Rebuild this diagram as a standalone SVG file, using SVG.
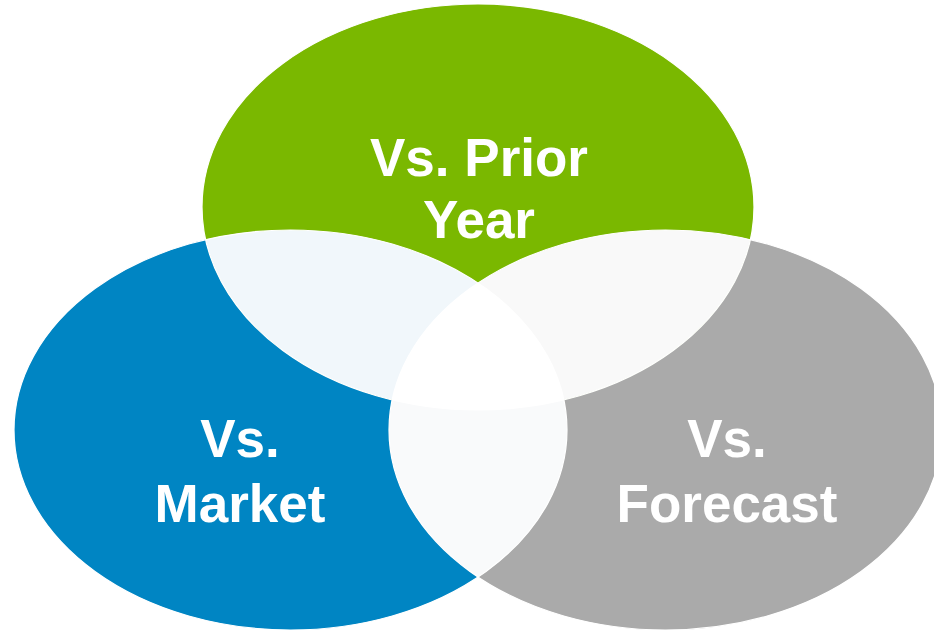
<svg xmlns="http://www.w3.org/2000/svg" width="934" height="632" viewBox="0 0 934 632">
  <style>
    .lbl { font-family: "Liberation Sans", Arial, sans-serif; font-weight: bold; font-size: 53px; fill: #ffffff; text-anchor: middle; }
    .edge { stroke: #ffffff; stroke-width: 1.2; }
  </style>
  <defs>
    <ellipse id="shapeGreen" cx="478" cy="207" rx="276" ry="203"/>
    <ellipse id="shapeBlue" cx="290.5" cy="430" rx="276.5" ry="200"/>
    <ellipse id="shapeGray" cx="665.5" cy="430" rx="276.5" ry="200"/>
    <clipPath id="clipGreen"><use href="#shapeGreen"/></clipPath>
    <clipPath id="clipBlue"><use href="#shapeBlue"/></clipPath>
    <clipPath id="clipGray"><use href="#shapeGray"/></clipPath>
  </defs>

  <rect width="934" height="632" fill="#ffffff"/>

  <g id="market">
    <use href="#shapeBlue" fill="#0085c3"/>
  </g>
  <g id="forecast">
    <use href="#shapeGray" fill="#aaaaaa"/>
  </g>
  <g id="prior-year">
    <use href="#shapeGreen" fill="#7ab800"/>
  </g>

  <!-- overlap regions -->
  <g id="overlaps">
    <use href="#shapeGreen" fill="#f1f7fb" clip-path="url(#clipBlue)"/>
    <use href="#shapeGreen" fill="#f9f9f9" clip-path="url(#clipGray)"/>
    <use href="#shapeBlue" fill="#f9fafb" clip-path="url(#clipGray)"/>
    <g clip-path="url(#clipBlue)">
      <use href="#shapeGreen" fill="#ffffff" clip-path="url(#clipGray)"/>
    </g>
    <use href="#shapeGreen" fill="none" class="edge"/>
    <use href="#shapeBlue" fill="none" class="edge"/>
    <use href="#shapeGray" fill="none" class="edge"/>
  </g>

  <g id="labels">
    <text class="lbl" x="479" y="176">Vs. Prior</text>
    <text class="lbl" x="479" y="238">Year</text>
    <text class="lbl" x="240" y="457">Vs.</text>
    <text class="lbl" x="240" y="522">Market</text>
    <text class="lbl" x="727" y="457">Vs.</text>
    <text class="lbl" x="727" y="522">Forecast</text>
  </g>
</svg>
